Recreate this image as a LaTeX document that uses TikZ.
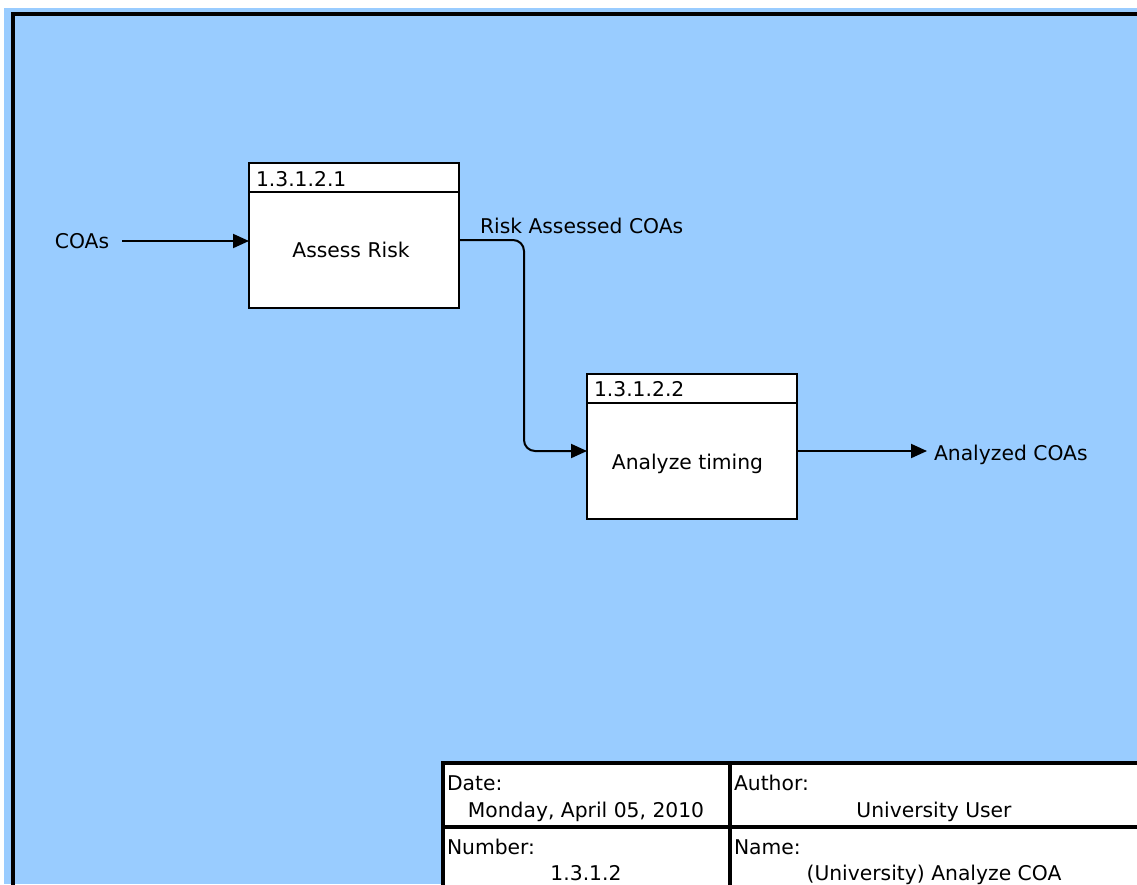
\documentclass[tikz,border=0pt]{standalone}
\usepackage{fontspec}
\setmainfont{DejaVu Sans}
\usetikzlibrary{arrows.meta}
\definecolor{bgblue}{RGB}{153,204,255}
\tikzset{
  txt/.style={inner sep=0pt, outer sep=0pt, font=\fontsize{20.3}{24}\selectfont, anchor=base},
  ltxt/.style={txt, anchor=base west},
  proc/.style={draw=black, line width=2pt, fill=white, minimum width=210pt, minimum height=145pt, inner sep=0pt, outer sep=0pt},
  flow/.style={draw=black, line width=2pt, -{Triangle[length=16pt,width=14pt]}},
  frame/.style={draw=black, line width=4pt},
  tline/.style={draw=black, line width=4pt},
}
\begin{document}
\begin{tikzpicture}[x=1pt,y=-1pt]
\useasboundingbox (0,0) rectangle (1137,884);
\clip (0,0) rectangle (1137,884);
\fill[white] (0,0) rectangle (1137,884);
\fill[bgblue] (4,8) rectangle (1137,884);
% outer frame
\draw[frame] (12.5,900) -- (12.5,14) -- (1150,14);

% process boxes
\node[proc] (b1) at (354,235.5) {};
\draw[line width=2pt] (b1.north west |- 0,192) -- (b1.north east |- 0,192);
\node[ltxt] (b1num) at (256,186) {1.3.1.2.1};
\node[txt] (b1lab) at (351,257) {Assess Risk};

\node[proc] (b2) at (692,446.5) {};
\draw[line width=2pt] (b2.north west |- 0,403) -- (b2.north east |- 0,403);
\node[ltxt] (b2num) at (594,396) {1.3.1.2.2};
\node[txt] (b2lab) at (687.5,469) {Analyze timing};

% flows
\node[txt] (coas) at (82,248) {COAs};
\coordinate (coasEnd) at (122,241);
\draw[flow] (coasEnd) -- (b1.west |- coasEnd);

\node[ltxt] (risk) at (480,233) {Risk Assessed COAs};
\coordinate (rOut) at (b1.east |- 0,240);
\coordinate (rIn) at (b2.west |- 0,451);
\draw[flow, rounded corners=11pt] (rOut) -- (524,240) -- (524,451) -- (rIn);

\coordinate (aOut) at (b2.east |- 0,451);
\coordinate (aEnd) at (927,451);
\draw[flow] (aOut) -- (aEnd);
\node[ltxt] (analyzed) at (934,460) {Analyzed COAs};

% title block
\fill[white] (443,763) rectangle (1150,900);
\draw[tline] (443,900) -- (443,763) -- (1150,763);
\draw[tline] (730,763) -- (730,900);
\draw[line width=3.5pt] (443,827) -- (1150,827);
\node[ltxt] (date) at (447,790) {Date:};
\node[txt] (dateval) at (586,817) {Monday, April 05, 2010};
\node[ltxt] (num) at (447,854) {Number:};
\node[txt] (numval) at (586,880) {1.3.1.2};
\node[ltxt] (auth) at (734,790) {Author:};
\node[txt] (authval) at (934,817) {University User};
\node[ltxt] (name) at (734,854) {Name:};
\node[txt] (nameval) at (934,880) {(University) Analyze COA};
\end{tikzpicture}
\end{document}
